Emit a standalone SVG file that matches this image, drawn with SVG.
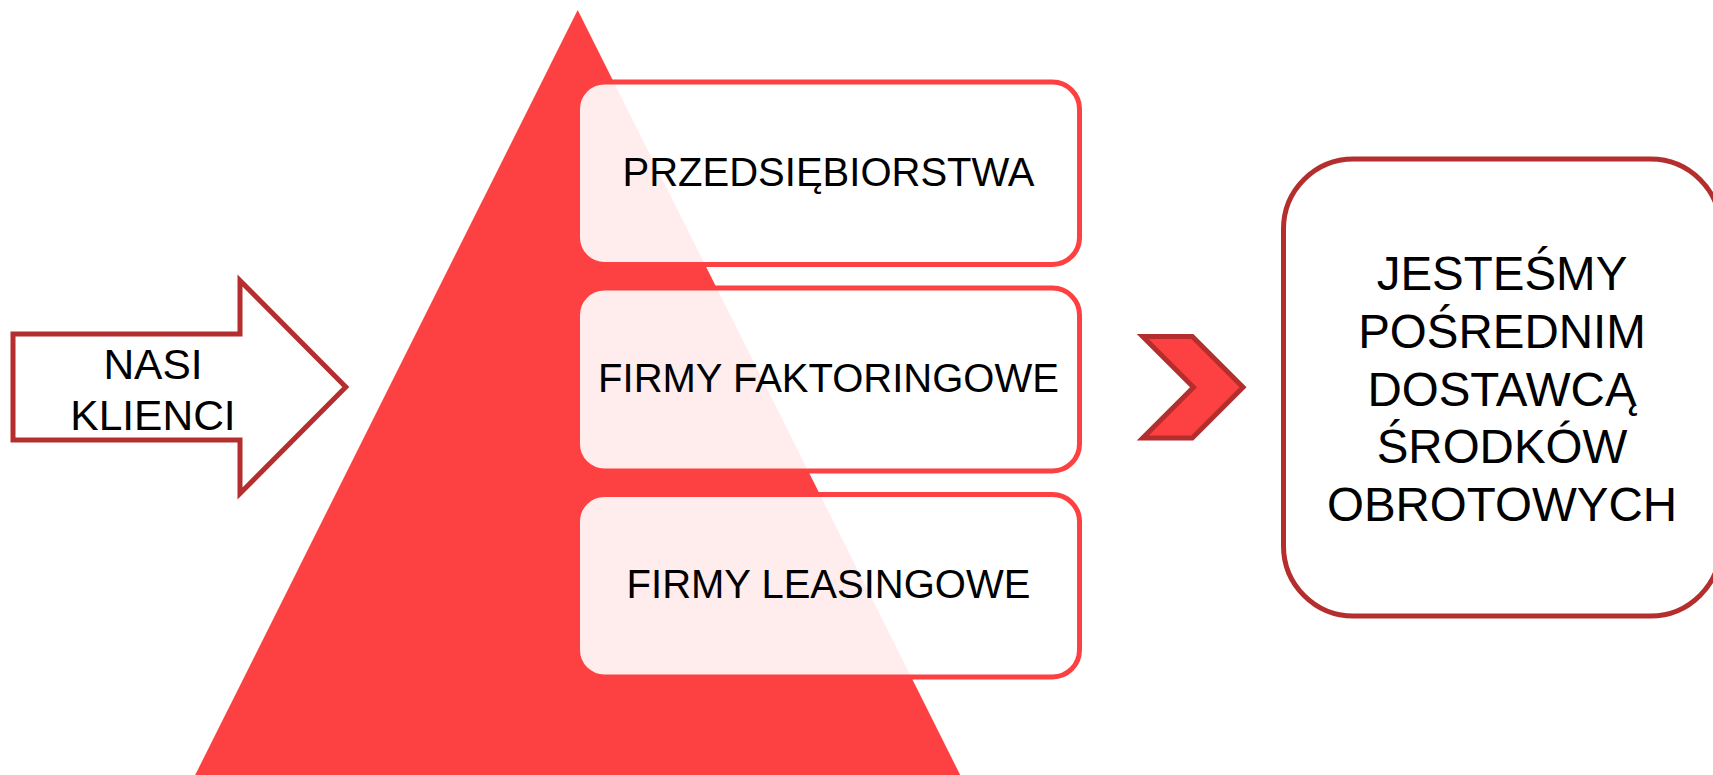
<svg xmlns="http://www.w3.org/2000/svg" width="1713" height="775" viewBox="0 0 1713 775">
  <style>
    .t { font-family: "Liberation Sans", Arial, sans-serif; fill: #000000; text-anchor: middle; }
    .lvl { fill: #FFFFFF; fill-opacity: 0.9; stroke: #FD4041; stroke-width: 5; }
    .dark { stroke: #B52E2E; stroke-width: 5; }
  </style>
  <rect width="1713" height="775" fill="#FFFFFF"/>
  <g id="pyramid">
    <polygon points="577.7,10 970.2,795 185.2,795" fill="#FD4041"/>
  </g>
  <g id="nasi-klienci">
    <polygon class="dark" fill="#FFFFFF" points="13,334 240,334 240,280.5 345.8,387 240,493.5 240,440 13,440"/>
    <text class="t" font-size="42.5" x="153" y="379">NASI</text>
    <text class="t" font-size="42.5" x="153" y="429.5">KLIENCI</text>
  </g>
  <g id="przedsiebiorstwa">
    <rect class="lvl" x="577.5" y="82" width="502" height="182.5" rx="27" ry="27"/>
    <text class="t" font-size="40" x="828.5" y="186">PRZEDSIĘBIORSTWA</text>
  </g>
  <g id="firmy-faktoringowe">
    <rect class="lvl" x="577.5" y="288" width="502" height="183" rx="27" ry="27"/>
    <text class="t" font-size="40" x="828.5" y="392.3">FIRMY FAKTORINGOWE</text>
  </g>
  <g id="firmy-leasingowe">
    <rect class="lvl" x="577.5" y="494.5" width="502" height="182.5" rx="27" ry="27"/>
    <text class="t" font-size="40" x="828.5" y="598.3">FIRMY LEASINGOWE</text>
  </g>
  <g id="connectors">
    <polygon class="dark" fill="#FD4041" stroke-linejoin="miter" points="1142.75,336.5 1192.25,336.5 1243,387.25 1192.25,438 1142.75,438 1193.5,387.25"/>
  </g>
  <g id="jestesmy">
    <rect x="1283.5" y="159" width="437" height="457" rx="70" ry="70" fill="#FFFFFF" class="dark"/>
    <text class="t" font-size="47.5" x="1502" y="290">JESTEŚMY</text>
    <text class="t" font-size="47.5" x="1502" y="347.7">POŚREDNIM</text>
    <text class="t" font-size="47.5" x="1502" y="405.5">DOSTAWCĄ</text>
    <text class="t" font-size="47.5" x="1502" y="463">ŚRODKÓW</text>
    <text class="t" font-size="47.5" x="1502" y="520.7">OBROTOWYCH</text>
  </g>
</svg>
